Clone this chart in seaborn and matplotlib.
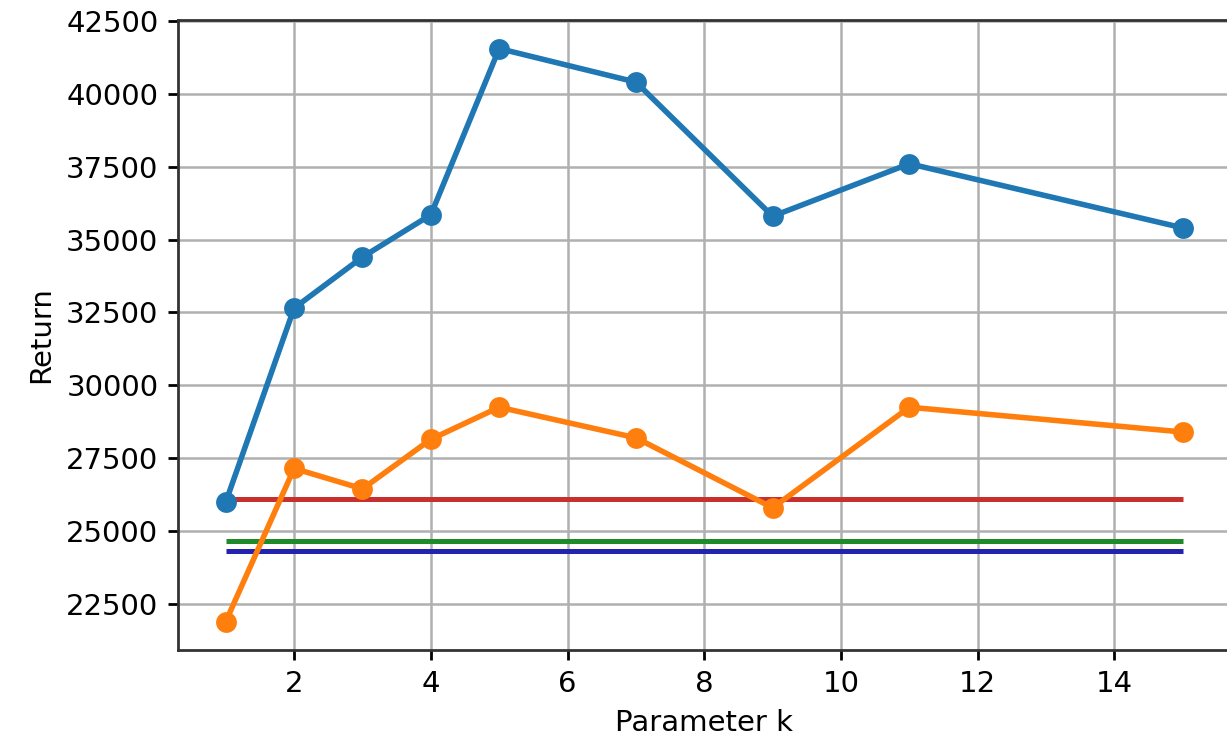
import numpy as np
import pandas as pd
import seaborn as sns
import matplotlib.pyplot as plt

#### Data
k_values = [1, 2, 3, 4, 5, 7, 9, 11, 15]
return_a = [26000, 32650, 34400, 35850, 41550, 40400, 35800, 37600, 35400]
return_b = [21900, 27150, 26450, 28150, 29250, 28200, 25800, 29250, 28400]
baseline_names = ["red", "green", "blue"]
baseline_values = [26100, 24650, 24320]
baseline_colors = ["#c8302e", "#1f8a2a", "#2323b0"]

df = pd.DataFrame({
    "k": k_values * 2,
    "Return": return_a + return_b,
    "series": ["a"] * len(k_values) + ["b"] * len(k_values),
})

#### Plot
fig = plt.figure(figsize=(6.135, 3.69), dpi=200, facecolor="white")
ax = fig.add_axes([0.145, 0.119, 0.858, 0.854])

for val, col in zip(baseline_values, baseline_colors):
    ax.hlines(val, min(k_values), max(k_values), color=col, linewidth=1.8, zorder=2)

sns.lineplot(data=df, x="k", y="Return", hue="series",
             palette=["#1f77b4", "#ff7f0e"], marker="o", markersize=7.5,
             markeredgewidth=0, linewidth=2, legend=False, ax=ax, zorder=3)

ax.grid(True, color="#b0b0b0", linewidth=0.9)
ax.set_axisbelow(True)
for sp in ax.spines.values():
    sp.set_linewidth(1.0)
    sp.set_color("#333333")
ax.set_xlabel("Parameter k", fontsize=10.5)
ax.set_ylabel("Return", fontsize=10.5)
ax.tick_params(labelsize=10.5, width=1.0)
ax.set_xticks([2, 4, 6, 8, 10, 12, 14])

plt.savefig("out.png", dpi=200)
